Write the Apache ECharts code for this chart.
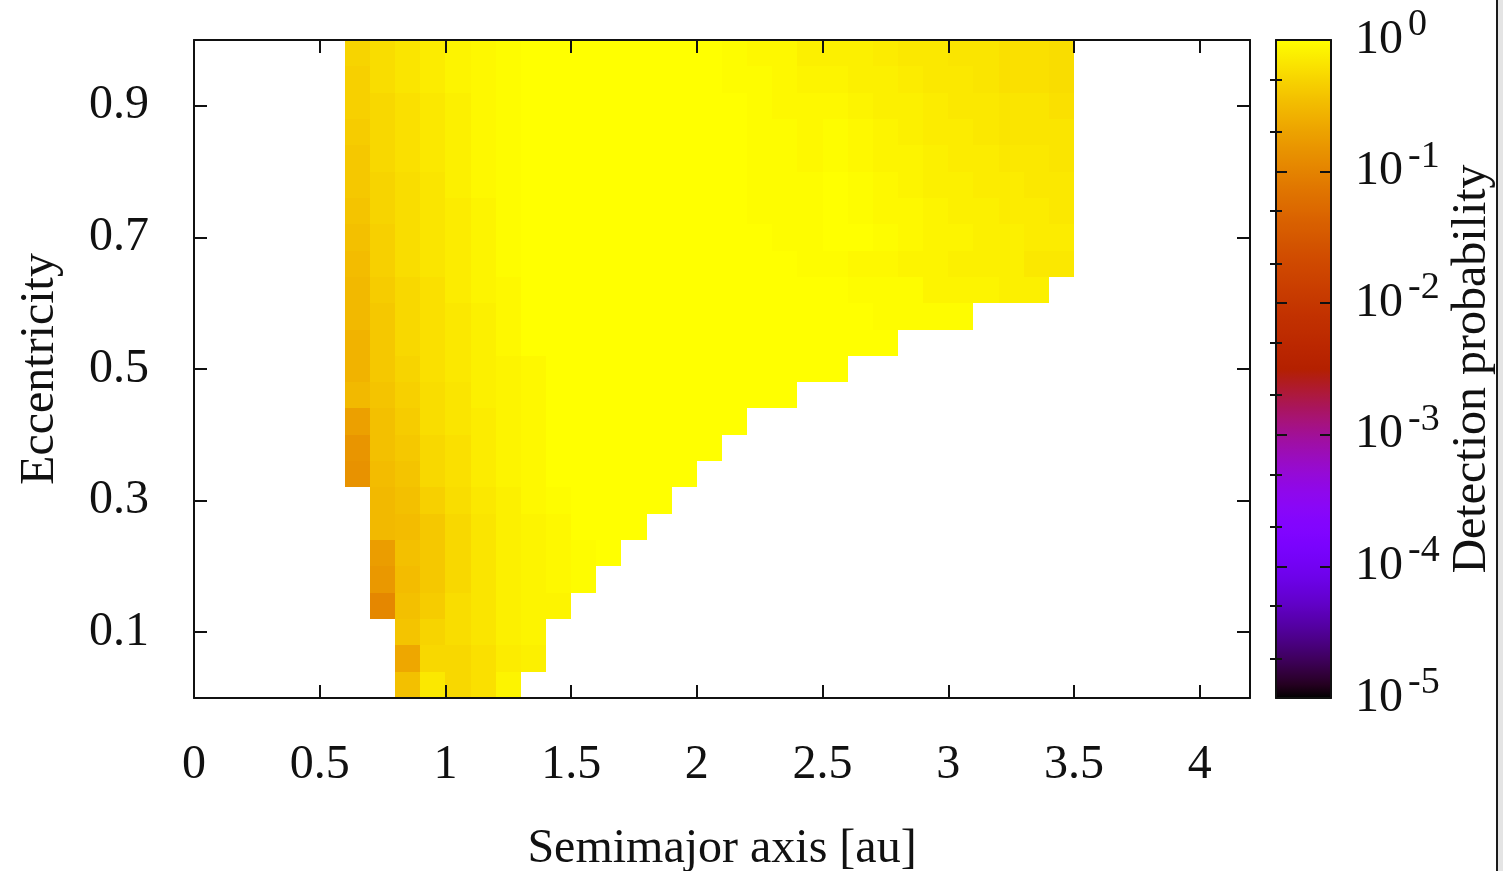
<!DOCTYPE html>
<html>
<head>
<meta charset="utf-8">
<script src="https://cdn.jsdelivr.net/npm/echarts@6/dist/echarts.min.js"></script>
<style>
  html, body { margin: 0; padding: 0; background: #ffffff; }
  #chart { width: 1503px; height: 871px; }
</style>
</head>
<body>
<div id="chart"></div>
<script>
const _ = null;

// bin centres of the semimajor-axis grid [au]
const semimajorAxis = [0.65, 0.75, 0.85, 0.95, 1.05, 1.15, 1.25, 1.35, 1.45, 1.55,
  1.65, 1.75, 1.85, 1.95, 2.05, 2.15, 2.25, 2.35, 2.45, 2.55,
  2.65, 2.75, 2.85, 2.95, 3.05, 3.15, 3.25, 3.35, 3.45];

// bin centres of the eccentricity grid
const eccentricity = [0.02, 0.06, 0.10, 0.14, 0.18, 0.22, 0.26, 0.30, 0.34, 0.38,
  0.42, 0.46, 0.50, 0.54, 0.58, 0.62, 0.66, 0.70, 0.74, 0.78,
  0.82, 0.86, 0.90, 0.94, 0.98];

// detection probability, one row per eccentricity bin (bottom to top), one column per semimajor-axis bin
const detectionProbability = [
  [_,_,.35,.70,.54,.61,.85,_,   _,_,_,_,_,_,_,_,   _,_,_,_,_,_,_,_,_,_,_,_,_],
  [_,_,.22,.54,.54,.61,.75,.79, _,_,_,_,_,_,_,_,   _,_,_,_,_,_,_,_,_,_,_,_,_],
  [_,_,.38,.50,.58,.66,.79,.85, _,_,_,_,_,_,_,_,   _,_,_,_,_,_,_,_,_,_,_,_,_],
  [_,.11,.35,.44,.58,.66,.79,.85, .85,_,_,_,_,_,_,_, _,_,_,_,_,_,_,_,_,_,_,_,_],
  [_,.16,.33,.41,.54,.66,.79,.85, .90,.95,_,_,_,_,_,_, _,_,_,_,_,_,_,_,_,_,_,_,_],
  [_,.18,.35,.41,.54,.66,.79,.85, .90,.95,1,_,_,_,_,_, _,_,_,_,_,_,_,_,_,_,_,_,_],
  [_,.31,.33,.41,.54,.66,.79,.85, .90,1,1,1,_,_,_,_, _,_,_,_,_,_,_,_,_,_,_,_,_],
  [_,.31,.35,.47,.58,.70,.79,.90, .95,1,1,1,1,_,_,_, _,_,_,_,_,_,_,_,_,_,_,_,_],
  [.14,.33,.38,.54,.61,.75,.85,.90, 1,1,1,1,1,1,_,_, _,_,_,_,_,_,_,_,_,_,_,_,_],
  [.15,.35,.41,.54,.61,.75,.85,.90, 1,1,1,1,1,1,1,_, _,_,_,_,_,_,_,_,_,_,_,_,_],
  [.19,.35,.44,.58,.66,.75,.85,.90, 1,1,1,1,1,1,1,1, _,_,_,_,_,_,_,_,_,_,_,_,_],
  [.31,.38,.47,.58,.66,.79,.85,.90, 1,1,1,1,1,1,1,1, 1,1,_,_,_,_,_,_,_,_,_,_,_],
  [.28,.41,.50,.61,.70,.79,.85,.90, 1,1,1,1,1,1,1,1, 1,1,1,1,_,_,_,_,_,_,_,_,_],
  [.28,.41,.54,.61,.70,.79,.90,1,   1,1,1,1,1,1,1,1, 1,1,1,1,1,1,_,_,_,_,_,_,_],
  [.31,.41,.54,.61,.70,.79,.90,1,   1,1,1,1,1,1,1,1, 1,1,1,1,1,.95,.95,.95,.95,_,_,_,_],
  [.31,.44,.54,.61,.75,.85,.90,1,   1,1,1,1,1,1,1,1, 1,1,1,1,.95,.95,.95,.85,.85,.85,.79,.79,_],
  [.33,.47,.58,.66,.75,.85,.95,1,   1,1,1,1,1,1,1,1, 1,1,.95,.95,.90,.90,.85,.85,.79,.79,.79,.70,.70],
  [.35,.47,.58,.66,.75,.85,.95,1,   1,1,1,1,1,1,1,1, 1,.95,.95,1,1,.95,.90,.85,.85,.79,.79,.75,.75],
  [.38,.50,.58,.66,.75,.85,.95,1,   1,1,1,1,1,1,1,1, .95,.95,.95,1,.95,.90,.90,.85,.79,.79,.75,.75,.70],
  [.41,.50,.58,.66,.79,.90,.95,1,   1,1,1,1,1,1,1,1, .95,.95,.95,1,.95,.90,.85,.79,.79,.75,.75,.70,.70],
  [.41,.54,.61,.70,.79,.90,.95,1,   1,1,1,1,1,1,1,1, .95,.95,.90,.95,.90,.85,.85,.79,.75,.75,.70,.70,.66],
  [.44,.54,.61,.70,.79,.90,.95,1,   1,1,1,1,1,1,1,1, .95,.95,.90,.95,.90,.85,.79,.75,.75,.70,.66,.66,.66],
  [.47,.54,.61,.70,.79,.90,.95,1,   1,1,1,1,1,1,1,1, .95,.90,.90,.90,.85,.79,.79,.75,.70,.70,.66,.66,.61],
  [.47,.58,.66,.75,.85,.90,.95,1,   1,1,1,1,1,1,1,.95, .95,.90,.85,.85,.79,.79,.75,.70,.70,.66,.61,.61,.58],
  [.50,.58,.66,.75,.85,.90,.95,1,   1,1,1,1,1,1,1,.95, .90,.90,.79,.79,.79,.75,.70,.70,.66,.66,.61,.61,.58]
];

// tick labels
const xTicks = [0, 0.5, 1, 1.5, 2, 2.5, 3, 3.5, 4];
const yTicks = [0.1, 0.3, 0.5, 0.7, 0.9];
const cbExponents = [-5, -4, -3, -2, -1, 0];
const cbMinorMultiples = [2, 5];

// ---------- build ----------
const da = semimajorAxis[1] - semimajorAxis[0];
const de = eccentricity[1] - eccentricity[0];
const cells = [];
detectionProbability.forEach((row, j) => {
  row.forEach((p, i) => {
    if (p !== null) cells.push([semimajorAxis[i], eccentricity[j], Math.log10(p), p]);
  });
});

const cbMinor = [];
cbExponents.forEach(e => cbMinorMultiples.forEach(m => {
  const v = e + Math.log10(m);
  if (v < cbExponents[cbExponents.length - 1]) cbMinor.push(v);
}));

// gnuplot-like palette (rgbformulae 7,5,15)
const palette = [];
for (let k = 0; k <= 64; k++) {
  const x = k / 64;
  const r = Math.round(255 * Math.sqrt(x));
  const g = Math.round(255 * Math.pow(x, 3));
  const b = Math.round(255 * Math.max(0, Math.sin(2 * Math.PI * x)));
  palette.push('rgb(' + r + ',' + g + ',' + b + ')');
}

const FONT = 'Liberation Serif';
const INK = '#111111';
const txt = { fontFamily: FONT, fontSize: 48, color: INK };
const line = { show: true, onZero: false, lineStyle: { color: INK, width: 2 } };
const noLine = { show: false };
const hidden = { show: false };

const chart = echarts.init(document.getElementById('chart'), null, { renderer: 'canvas' });

chart.setOption({
  animation: false,
  backgroundColor: '#ffffff',
  grid: [
    { left: 194, top: 40, width: 1056, height: 658, containLabel: false, outerBoundsMode: 'none' },
    { left: 1276, top: 40, width: 55, height: 658, containLabel: false, outerBoundsMode: 'none' }
  ],
  xAxis: [
    { gridIndex: 0, type: 'value', position: 'bottom', min: 0, max: 4.2, z: 3,
      axisLine: line,
      axisTick: { inside: true, length: 13, lineStyle: { color: INK, width: 2 }, customValues: xTicks },
      axisLabel: Object.assign({ customValues: xTicks, margin: 43 }, txt),
      splitLine: hidden,
      name: 'Semimajor axis [au]', nameLocation: 'middle', nameGap: 127, nameTextStyle: txt },
    { gridIndex: 0, type: 'value', position: 'top', min: 0, max: 4.2, z: 3,
      axisLine: line,
      axisTick: { inside: true, length: 13, lineStyle: { color: INK, width: 2 }, customValues: xTicks },
      axisLabel: hidden, splitLine: hidden },
    { gridIndex: 1, type: 'value', position: 'bottom', min: 0, max: 1, z: 6,
      axisLine: line, axisTick: hidden, axisLabel: hidden, splitLine: hidden },
    { gridIndex: 1, type: 'value', position: 'top', min: 0, max: 1, z: 6,
      axisLine: line, axisTick: hidden, axisLabel: hidden, splitLine: hidden }
  ],
  yAxis: [
    { gridIndex: 0, type: 'value', position: 'left', min: 0, max: 1, z: 3,
      axisLine: line,
      axisTick: { inside: true, length: 13, lineStyle: { color: INK, width: 2 }, customValues: yTicks },
      axisLabel: Object.assign({ customValues: yTicks, margin: 45 }, txt),
      splitLine: hidden,
      name: 'Eccentricity', nameLocation: 'middle', nameGap: 130, nameRotate: 90, nameTextStyle: txt },
    { gridIndex: 0, type: 'value', position: 'right', min: 0, max: 1, z: 3,
      axisLine: line,
      axisTick: { inside: true, length: 13, lineStyle: { color: INK, width: 2 }, customValues: yTicks },
      axisLabel: hidden, splitLine: hidden },
    // colour bar: major ticks left
    { gridIndex: 1, type: 'value', position: 'left', min: -5, max: 0, z: 6,
      axisLine: line,
      axisTick: { inside: true, length: 11, lineStyle: { color: INK, width: 2 }, customValues: cbExponents },
      axisLabel: hidden, splitLine: hidden },
    // colour bar: minor ticks left
    { gridIndex: 1, type: 'value', position: 'left', min: -5, max: 0, z: 6,
      axisLine: noLine,
      axisTick: { inside: true, length: 6, lineStyle: { color: INK, width: 2 }, customValues: cbMinor },
      axisLabel: hidden, splitLine: hidden },
    // colour bar: major ticks + base "10" labels right
    { gridIndex: 1, type: 'value', position: 'right', min: -5, max: 0, z: 6,
      axisLine: line,
      axisTick: { inside: true, length: 11, lineStyle: { color: INK, width: 2 }, customValues: cbExponents },
      axisLabel: Object.assign({ customValues: cbExponents, margin: 24, padding: [0, 0, 4, 0],
        formatter: () => '10' }, txt),
      splitLine: hidden,
      name: 'Detection probability', nameLocation: 'middle', nameGap: 117, nameRotate: 90, nameTextStyle: txt },
    // colour bar: minor ticks right
    { gridIndex: 1, type: 'value', position: 'right', min: -5, max: 0, z: 6,
      axisLine: noLine,
      axisTick: { inside: true, length: 6, lineStyle: { color: INK, width: 2 }, customValues: cbMinor },
      axisLabel: hidden, splitLine: hidden },
    // colour bar: exponent (superscript) labels
    { gridIndex: 1, type: 'value', position: 'right', min: -5, max: 0, z: 6,
      axisLine: noLine, axisTick: hidden, splitLine: hidden,
      axisLabel: { customValues: cbExponents, margin: 77, formatter: v => String(v),
        fontFamily: FONT, fontSize: 38, lineHeight: 30, color: INK, verticalAlign: 'bottom' } }
  ],
  visualMap: {
    type: 'continuous', min: -5, max: 0, dimension: 2, seriesIndex: 0,
    inRange: { color: palette },
    calculable: false, hoverLink: false, realtime: false,
    orient: 'vertical', left: 1276, top: 40, padding: 0,
    itemWidth: 55, itemHeight: 658, text: null, showLabel: false
  },
  series: [{
    type: 'custom',
    xAxisIndex: 0, yAxisIndex: 0,
    silent: true,
    encode: { x: 0, y: 1 },
    data: cells,
    z: 2,
    renderItem: function (params, api) {
      const a = api.value(0), e = api.value(1);
      const tl = api.coord([a - da / 2, e + de / 2]);
      const br = api.coord([a + da / 2, e - de / 2]);
      const x0 = Math.round(tl[0]), y0 = Math.round(tl[1]);
      const x1 = Math.round(br[0]), y1 = Math.round(br[1]);
      return {
        type: 'rect',
        shape: { x: x0, y: y0, width: x1 - x0, height: y1 - y0 },
        style: { fill: api.visual('color'), stroke: null }
      };
    }
  }],
  graphic: [
    { type: 'rect', shape: { x: 1496, y: 0, width: 2, height: 871 }, style: { fill: '#1a1a1a' }, silent: true },
    { type: 'rect', shape: { x: 1498, y: 0, width: 5, height: 871 }, style: { fill: '#e4e4e4' }, silent: true }
  ]
});
</script>
</body>
</html>
